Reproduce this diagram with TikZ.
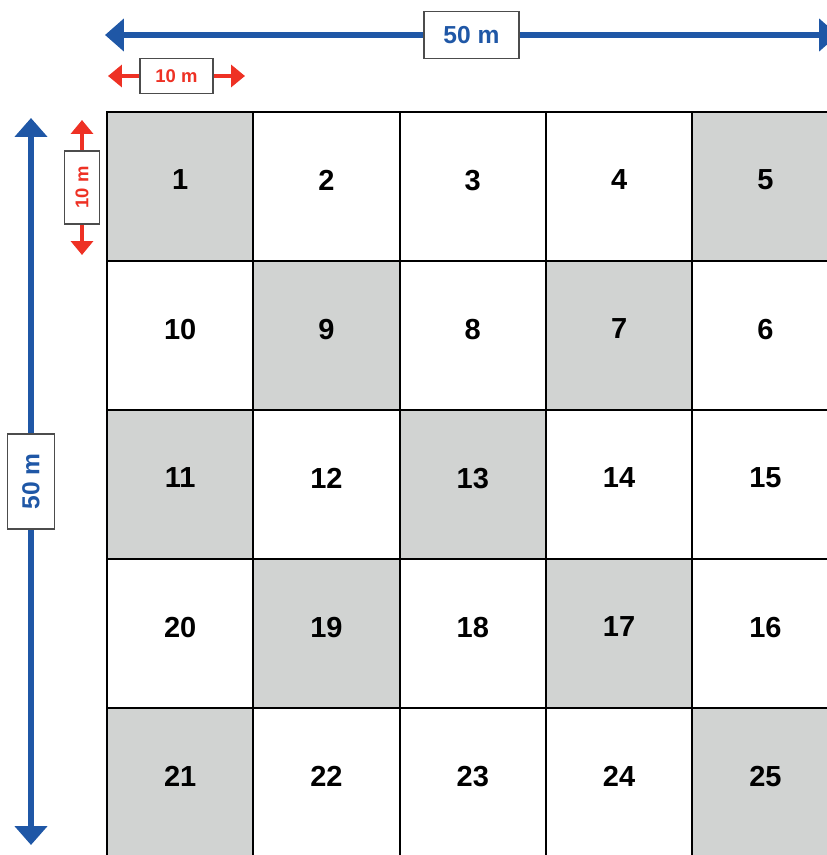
\documentclass[tikz,border=0pt]{standalone}
\usepackage{fontspec}
\setmainfont{Liberation Sans}
\usetikzlibrary{arrows.meta}

\definecolor{dimblue}{HTML}{1F57A6}
\definecolor{dimred}{HTML}{EE3124}
\definecolor{plotgray}{HTML}{D1D3D2}

\begin{document}
\begin{tikzpicture}[
    x=0.02cm, y=-0.02cm,
    plot/.style={rectangle, draw=black, line width=1.1pt, minimum width=2.926cm, minimum height=2.98cm, inner sep=0pt, text depth=0.26cm, font=\fontsize{16.5}{18}\bfseries\selectfont},
    shaded/.style={plot, fill=plotgray},
    bigdim/.style={draw=dimblue, line width=0.12cm, {Triangle[length=0.38cm, width=0.64cm]}-{Triangle[length=0.38cm, width=0.64cm]}},
    smalldim/.style={draw=dimred, line width=0.08cm, {Triangle[length=0.28cm, width=0.44cm]}-{Triangle[length=0.28cm, width=0.44cm]}},
    bigtag/.style={rectangle, draw=black!70, fill=white, line width=0.6pt, minimum width=1.9cm, minimum height=0.94cm, inner sep=0pt, text=dimblue, font=\fontsize{14}{16}\bfseries\selectfont},
    smalltag/.style={rectangle, draw=black!70, fill=white, line width=0.6pt, minimum width=1.46cm, minimum height=0.7cm, inner sep=0pt, text=dimred, font=\fontsize{10.5}{12}\bfseries\selectfont}
]

\useasboundingbox (0,0) rectangle (827,855);
\clip (0,0) rectangle (827,855);

% plots, numbered back and forth
\node[shaded] (c1) at (180.2,186.5) {1};
\node[plot] (c2) at (326.5,186.5) {2};
\node[plot] (c3) at (472.8,186.5) {3};
\node[plot] (c4) at (619.1,186.5) {4};
\node[shaded] (c5) at (765.4,186.5) {5};
\node[plot] (c10) at (180.2,335.5) {10};
\node[shaded] (c9) at (326.5,335.5) {9};
\node[plot] (c8) at (472.8,335.5) {8};
\node[shaded] (c7) at (619.1,335.5) {7};
\node[plot] (c6) at (765.4,335.5) {6};
\node[shaded] (c11) at (180.2,484.5) {11};
\node[plot] (c12) at (326.5,484.5) {12};
\node[shaded] (c13) at (472.8,484.5) {13};
\node[plot] (c14) at (619.1,484.5) {14};
\node[plot] (c15) at (765.4,484.5) {15};
\node[plot] (c20) at (180.2,633.5) {20};
\node[shaded] (c19) at (326.5,633.5) {19};
\node[plot] (c18) at (472.8,633.5) {18};
\node[shaded] (c17) at (619.1,633.5) {17};
\node[plot] (c16) at (765.4,633.5) {16};
\node[shaded] (c21) at (180.2,782.5) {21};
\node[plot] (c22) at (326.5,782.5) {22};
\node[plot] (c23) at (472.8,782.5) {23};
\node[plot] (c24) at (619.1,782.5) {24};
\node[shaded] (c25) at (765.4,782.5) {25};

% dimension arrows
\coordinate (topL) at (105,35);
\coordinate (topR) at (838,35);
\coordinate (sideT) at (31,118);
\coordinate (sideB) at (31,845);
\coordinate (cellL) at (108,76);
\coordinate (cellR) at (245,76);
\coordinate (cellT) at (82,120);
\coordinate (cellB) at (82,255);

\draw[bigdim] (topL) -- node[bigtag] (toptag) {50 m} (topR);
\draw[bigdim] (sideB) -- node[bigtag, rotate=90] (sidetag) {50 m} (sideT);
\draw[smalldim] (cellL) -- node[smalltag] (celltagx) {10 m} (cellR);
\draw[smalldim] (cellB) -- node[smalltag, rotate=90] (celltagy) {10 m} (cellT);

\end{tikzpicture}
\end{document}
